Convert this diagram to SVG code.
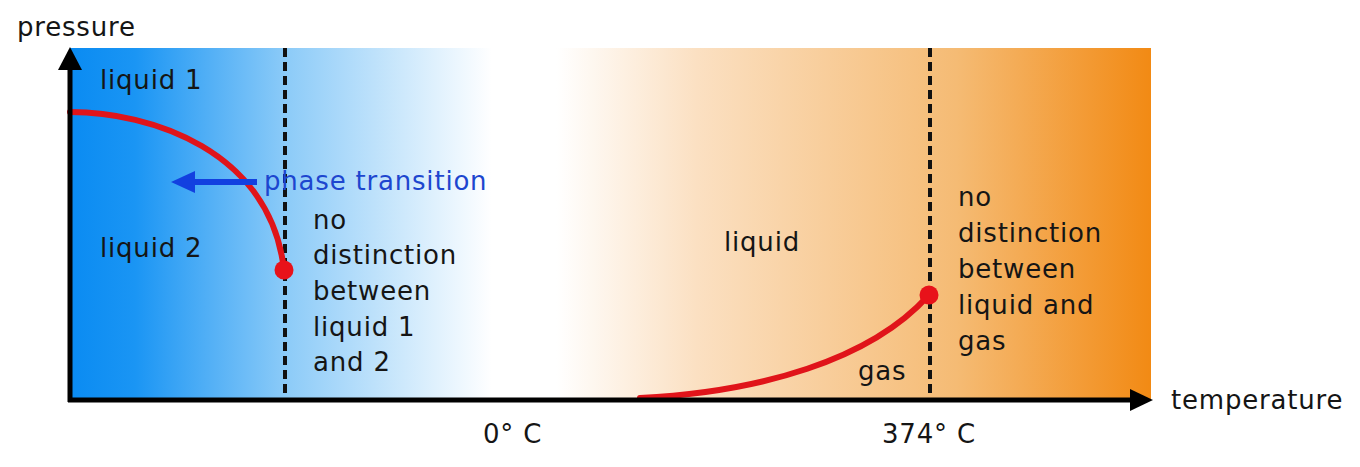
<svg xmlns="http://www.w3.org/2000/svg" width="1360" height="467" viewBox="0 0 1360 467">
<style>
text{font-family:"DejaVu Sans",Verdana,sans-serif;font-size:26px;letter-spacing:0.8px;fill:#151515}
.blue{fill:#1d46cf}
.dash{stroke:#111;stroke-width:4;stroke-dasharray:9,5;fill:none}
.curve{stroke:#e0141a;stroke-width:6;fill:none;stroke-linecap:round}
.dot{fill:#e8121a}
.axis{stroke:#000;stroke-width:5;fill:none}
</style>
<defs>
<linearGradient id="bg" x1="0" y1="0" x2="1" y2="0">
<stop offset="0" stop-color="#0a8bf2"/>
<stop offset="0.06" stop-color="#1a95f4"/>
<stop offset="0.2" stop-color="#8ccbf8"/>
<stop offset="0.39" stop-color="#ffffff"/>
<stop offset="0.45" stop-color="#ffffff"/>
<stop offset="0.58" stop-color="#fbe0c2"/>
<stop offset="0.82" stop-color="#f5bb74"/>
<stop offset="1" stop-color="#f28a14"/>
</linearGradient>
</defs>
<g id="background"><rect x="70" y="48" width="1081" height="352" fill="url(#bg)"/></g>
<g id="connectors">
<line class="dash" x1="285" y1="48" x2="285" y2="400"/>
<line class="dash" x1="930" y1="48" x2="930" y2="400"/>
<path class="curve" d="M70,112 C150,112 270,150 284,270"/>
<path class="curve" d="M640,398 C760,392 870,360 928,296"/>
<line x1="257" y1="182" x2="190" y2="182" stroke="#1240e0" stroke-width="6"/>
<polygon points="171,182 195,171 195,193" fill="#1240e0"/>
<line class="axis" x1="70" y1="402" x2="70" y2="66"/>
<polygon points="70,47 58,70 82,70" fill="#000"/>
<line class="axis" x1="68" y1="400" x2="1134" y2="400"/>
<polygon points="1153,400 1130,389 1130,411" fill="#000"/>
</g>
<g id="critical-point-1"><circle class="dot" cx="284" cy="270" r="9.5"/></g>
<g id="critical-point-2"><circle class="dot" cx="929" cy="295" r="9.5"/></g>
<g id="axis-labels">
<text x="17" y="36">pressure</text>
<text x="1171" y="409">temperature</text>
<text x="483" y="443">0° C</text>
<text x="882" y="443">374° C</text>
</g>
<g id="region-labels">
<text x="100" y="89">liquid 1</text>
<text x="100" y="257">liquid 2</text>
<text class="blue" x="264" y="190">phase transition</text>
<text x="313" y="229">no</text>
<text x="313" y="264">distinction</text>
<text x="313" y="300">between</text>
<text x="313" y="336">liquid 1</text>
<text x="313" y="371">and 2</text>
<text x="724" y="251">liquid</text>
<text x="858" y="380">gas</text>
<text x="958" y="206">no</text>
<text x="958" y="242">distinction</text>
<text x="958" y="278">between</text>
<text x="958" y="314">liquid and</text>
<text x="958" y="350">gas</text>
</g>
</svg>
